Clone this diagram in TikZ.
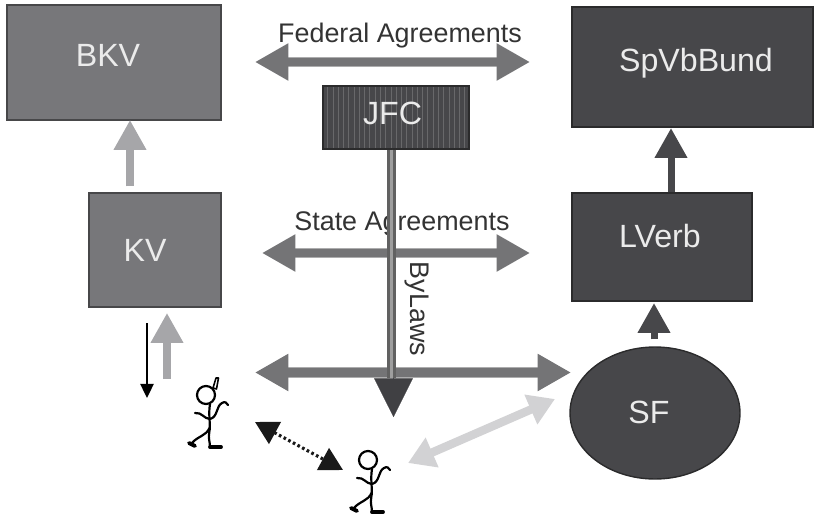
\documentclass[tikz,border=0pt]{standalone}
\usepackage{fontspec}
\setmainfont{Liberation Sans}
\usepackage{xcolor}
\usetikzlibrary{arrows.meta,patterns,calc,shapes.geometric}
\definecolor{boxgray}{HTML}{77777A}
\definecolor{boxdark}{HTML}{47474A}
\definecolor{arrowgray}{HTML}{747476}
\definecolor{arrowlight}{HTML}{A6A6A9}
\definecolor{arrowpale}{HTML}{D2D2D4}
\definecolor{jfcgray}{HTML}{47474A}
\definecolor{jfcline}{HTML}{68686A}
\tikzset{
	box/.style={draw=#1!60!black,line width=.8pt,fill=#1,inner sep=0pt},
	boxtext/.style={text=white!92!black,font=\fontsize{18.3}{20}\selectfont,inner sep=0pt},
	tag/.style={text=black!80,font=\fontsize{15.3}{17}\selectfont,inner sep=0pt},
	fat/.style={draw=#1,line width=4.6pt,preaction={draw=#1!60!white,line width=5.8pt,arrows=-,shorten <=15pt,shorten >=15pt},{Triangle[length=19pt,width=20pt,fill=#1]}-{Triangle[length=19pt,width=20pt,fill=#1]}},
	thinfat/.style={draw=#1,line width=4.8pt,{Triangle[length=15pt,width=17.5pt,fill=#1]}-{Triangle[length=15pt,width=17.5pt,fill=#1]}},
	fatup/.style={draw=#1,line width=4pt,-{Triangle[length=17pt,width=17.6pt,fill=#1]}},
	stick/.style={line width=1.25pt,line cap=round,line join=round}
}
\begin{document}
\begin{tikzpicture}[x=0.02cm,y=-0.02cm]
	\useasboundingbox (0,0) rectangle (820,513);
	
	% Boxes
	\node[box=boxgray,minimum width=4.28cm,minimum height=2.3cm] (BKV) at (114,62.5) {};
	\node[boxtext] (BKVtext) at (108,55) {BKV};
	\node[box=boxgray,minimum width=2.64cm,minimum height=2.28cm] (KV) at (155,250) {};
	\node[boxtext] (KVtext) at (145,250) {KV};
	\node[box=boxdark,minimum width=4.82cm,minimum height=2.4cm] (SpVbBund) at (692.5,67) {};
	\node[boxtext] (SpVbtext) at (696,63) {SpVbBund};
	\node[box=boxdark,minimum width=3.6cm,minimum height=2.16cm] (LVerb) at (662,247) {};
	\node[boxtext] (LVerbtext) at (660,236) {LVerb};
	\node[box=boxdark,ellipse,minimum width=3.4cm,minimum height=2.64cm] (SF) at (655,413) {};
	\node[boxtext] (SFtext) at (649,412) {SF};
	\node[box=boxdark,minimum width=2.92cm,minimum height=1.26cm,preaction={fill=jfcgray},pattern=vertical lines,pattern color=jfcline] (JFC) at (396,117.5) {};
	\node[boxtext] (JFCtext) at (392.5,113) {JFC};
	
	% Free ends
	\coordinate (fedL) at (255,62);
	\coordinate (fedR) at (530,62);
	\coordinate (staL) at (262,253);
	\coordinate (staR) at (530,253);
	\coordinate (lowL) at (255,372.5);
	\coordinate (lowR) at (571,372.5);
	\coordinate (kvUp) at (167,379);
	\coordinate (kvUpEnd) at (167,313);
	\coordinate (kvDown) at (147,323);
	\coordinate (kvDownEnd) at (147,398);
	\coordinate (stemEnd) at (393.5,417);
	\coordinate (stemTop) at (393.5,378);
	\coordinate (stemFoot) at (391.5,378);
	\coordinate (manA) at (255,422);
	\coordinate (manB) at (343,470);
	\coordinate (paleL) at (408,463);
	\coordinate (paleR) at (555,399);
	\coordinate (bkvUp) at (130,120);
	\coordinate (landUp) at (671,128);
	\coordinate (sfUp) at (654,303);
	
	% Agreements
	\draw[fat=arrowgray] (fedL) -- (fedR);
	\draw[fat=arrowgray] (staL) -- (staR);
	\draw[fat=arrowgray] (lowL) -- (lowR);
	\draw[thinfat=arrowpale] (paleL) -- (paleR);
	
	% Labels
	\node[tag] (federal) at (400,36) {Federal Agreements};
	\node[tag] (state) at (402,224) {State Agreements};
	\node[tag,rotate=-90] (bylaws) at (417,309) {ByLaws};
	
	% Stem
	\draw[line width=5.6pt,draw=black!62] (JFC.south -| stemFoot) -- (stemFoot);
	\draw[line width=1.8pt,draw=black!38] (JFC.south -| stemFoot) -- (stemFoot);
	\draw[line width=.1pt,draw=boxdark,-{Triangle[length=22pt,width=22pt,fill=boxdark!90!black]}] (stemTop) -- (stemEnd);
	
	% Hierarchy
	\draw[fatup=arrowlight,shorten <=3.4pt] (KV.north -| bkvUp) -- (bkvUp);
	\draw[fatup=boxdark] (LVerb.north -| landUp) -- (landUp);
	\draw[fatup=boxdark,shorten <=4pt] (SF.north -| sfUp) -- (sfUp);
	\draw[fatup=arrowlight] (kvUp) -- (kvUpEnd);
	\draw[line width=1.1pt,black,-{Triangle[length=8pt,width=7.5pt]}] (kvDown) -- (kvDownEnd);
	\draw[line width=1.8pt,dash pattern=on 1.5pt off 1.5pt,black!90,{Triangle[length=13pt,width=14pt,sep=0pt]}-{Triangle[length=13pt,width=14pt]}] (manA) -- (manB);
	
	% Figures
	\foreach \dx/\dy in {0/0,162/65} {
		\begin{scope}[shift={(\dx,\dy)},stick]
			\draw (206,395) circle[x radius=9,y radius=9];
			\draw (210,404) .. controls (208,415) and (211,425) .. (209.3,432) .. controls (208,438) and (210,442) .. (210,447);
			\draw (209.5,428) .. controls (206,436) and (198,436) .. (192,443);
			\draw[line width=2.2pt] (189,443) -- (195,446);
			\draw[line width=2.2pt] (210,447) -- (221,447);
			\draw (195,413) .. controls (202,412) and (204,419) .. (210,419) .. controls (218,417) and (216,406) .. (222,403) .. controls (225,401) and (227,403) .. (228,405);
		\end{scope}
	}
	\draw[stick,line width=.9pt] (213,388) -- (216,378) -- (218.5,378) -- (216.5,389) -- cycle;
\end{tikzpicture}
\end{document}
